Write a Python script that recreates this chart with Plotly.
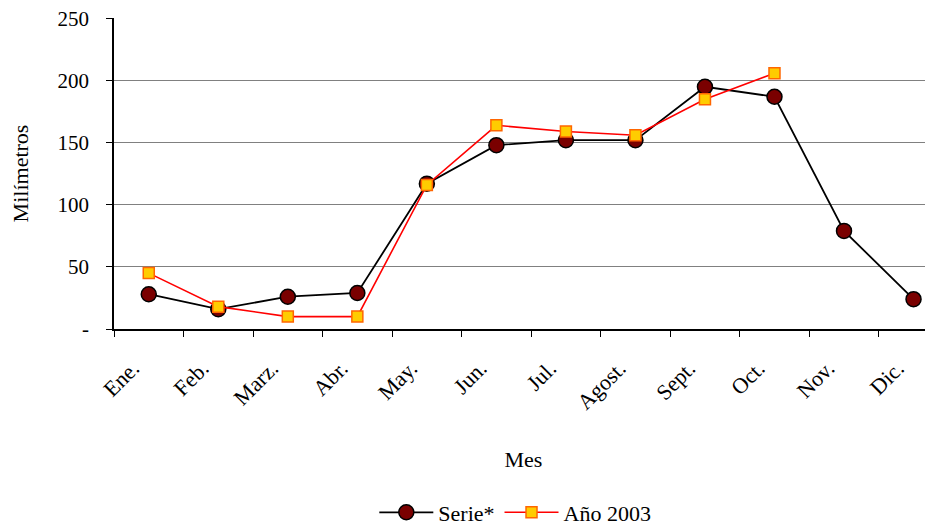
import plotly.graph_objects as go

meses = ["Ene.", "Feb.", "Marz.", "Abr.", "May.", "Jun.", "Jul.", "Agost.", "Sept.", "Oct.", "Nov.", "Dic."]
serie = [28, 16, 26, 29, 117, 148, 152, 152, 195, 187, 79, 24]
anio_2003 = [45, 18, 10, 10, 116, 164, 159, 156, 185, 206, None, None]

FONT = "Liberation Serif"
FS = 22

fig = go.Figure()
fig.add_trace(go.Scatter(
    x=meses, y=serie, name="Serie*", mode="lines+markers",
    line=dict(color="black", width=1.8),
    marker=dict(symbol="circle", size=15, color="#7a0000", line=dict(color="black", width=1.5)),
))
fig.add_trace(go.Scatter(
    x=meses, y=anio_2003, name="Año 2003", mode="lines+markers",
    line=dict(color="#ff0000", width=1.6),
    marker=dict(symbol="square", size=11, color="#ffcc00", line=dict(color="#ff6600", width=1.5)),
))

fig.update_layout(
    width=925, height=517,
    margin=dict(l=106, r=0, t=10, b=196, autoexpand=False),
    paper_bgcolor="white", plot_bgcolor="white",
    font=dict(family=FONT, size=FS, color="black"),
    showlegend=True,
    legend=dict(orientation="h", x=0.49, xanchor="center", y=-0.59, yanchor="middle",
                font=dict(family=FONT, size=FS), itemwidth=54),
)
fig.update_xaxes(
    type="category", range=[-0.5, 11.28], tickson="boundaries", automargin=False,
    ticks="outside", ticklen=6, tickcolor="black", tickangle=-45,
    tickfont=dict(family=FONT, size=FS), ticklabelstandoff=16, ticklabelshift=-16,
    ticklabeloverflow="allow",
    showline=True, linecolor="black", linewidth=1.5, showgrid=False,
    title=dict(text="Mes", standoff=38, font=dict(family=FONT, size=FS)),
)
fig.update_yaxes(
    range=[0, 250.4], tickvals=[0, 50, 100, 150, 200, 250],
    ticktext=["-", "50", "100", "150", "200", "250"], automargin=False,
    tickfont=dict(family=FONT, size=21), ticklabeloverflow="allow",
    ticks="outside", ticklen=6, tickcolor="black", ticklabelstandoff=13,
    showline=True, linecolor="black", linewidth=1.5,
    showgrid=True, gridcolor="#808080", gridwidth=1, zeroline=False,
    title=dict(text="Milímetros", standoff=30, font=dict(family=FONT, size=FS)),
)
fig.write_html("out.html")
